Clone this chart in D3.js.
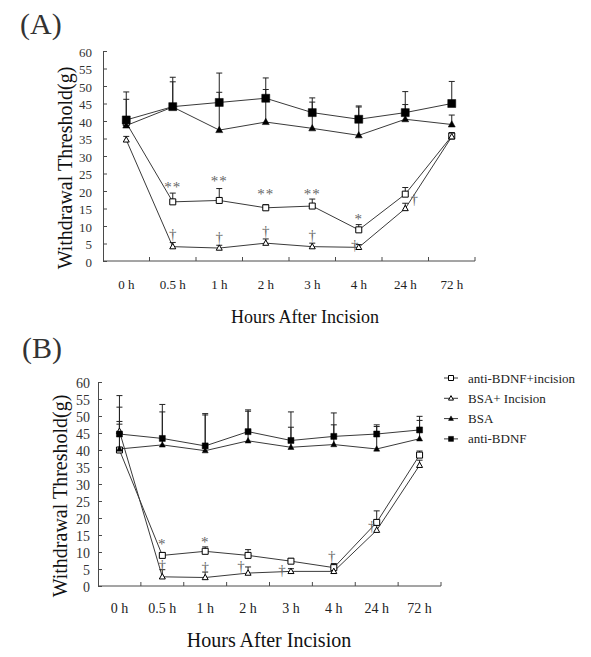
<!DOCTYPE html>
<html>
<head>
<meta charset="utf-8">
<script src="https://cdn.jsdelivr.net/npm/d3@7/dist/d3.min.js"></script>
<style>
  html, body { margin: 0; padding: 0; background: #fff; }
  svg { display: block; }
  text { font-family: "Liberation Serif", "Times New Roman", serif; }
</style>
</head>
<body>
<svg id="chart" width="591" height="657"></svg>
<script>
// ---------- DATA ----------
const hours = ["0 h", "0.5 h", "1 h", "2 h", "3 h", "4 h", "24 h", "72 h"];
const yTicks = [0, 5, 10, 15, 20, 25, 30, 35, 40, 45, 50, 55, 60];
const seriesNames = ["anti-BDNF+incision", "BSA+ Incision", "BSA", "anti-BDNF"];

// Panel A (means and upper error)
const aAntiBDNFInc    = [39.5, 16.9, 17.3, 15.2, 15.7, 8.9, 19.1, 35.7];
const aAntiBDNFIncErr = [1.5, 2.5, 3.4, 0.9, 2.0, 1.5, 1.9, 1.0];
const aBSAInc         = [34.6, 4.1, 3.7, 5.1, 4.1, 3.9, 15.0, 35.5];
const aBSAIncErr      = [1.0, 1.2, 0.8, 1.2, 1.0, 0.8, 1.5, 1.0];
const aBSA            = [38.7, 44.0, 37.4, 39.7, 37.9, 35.9, 40.5, 39.0];
const aBSAErr         = [7.5, 7.2, 10.8, 9.3, 7.5, 8.1, 4.2, 2.7];
const aAntiBDNF       = [40.3, 44.1, 45.3, 46.5, 42.4, 40.5, 42.4, 45.0];
const aAntiBDNFErr    = [8.0, 8.4, 8.4, 5.8, 4.2, 3.8, 6.0, 6.3];
const aStars          = ["", "**", "**", "**", "**", "*", "", ""];
const aDaggers        = ["", "\u2020", "\u2020", "\u2020", "\u2020", "\u2020", "\u2020", ""];

// Panel B
const bAntiBDNFInc    = [40.0, 9.0, 10.2, 9.0, 7.3, 5.4, 18.7, 38.5];
const bAntiBDNFIncErr = [7.6, 0.8, 1.3, 1.7, 0.8, 1.2, 3.4, 1.2];
const bBSAInc         = [45.5, 2.7, 2.5, 3.8, 4.3, 4.3, 16.4, 35.5];
const bBSAIncErr      = [2.9, 2.1, 1.6, 1.8, 0.8, 1.2, 1.6, 1.5];
const bBSA            = [40.3, 41.5, 39.8, 42.7, 40.8, 41.6, 40.3, 43.3];
const bBSAErr         = [12.3, 9.7, 10.5, 8.7, 5.9, 5.8, 6.6, 5.4];
const bAntiBDNF       = [44.7, 43.4, 41.2, 45.4, 42.8, 44.0, 44.7, 45.9];
const bAntiBDNFErr    = [11.3, 10.0, 9.5, 6.4, 8.4, 6.9, 2.7, 4.0];
const bStars          = ["", "*", "*", "", "", "", "", ""];
const bDaggers        = ["", "\u2020", "\u2020", "\u2020", "\u2020", "\u2020", "\u2020", ""];

// ---------- DRAWING ----------
const svg = d3.select("#chart");
const LINE = "#3a3a3a", AXIS = "#4a4a4a", ANNOT = "#666";

function markerPath(type, s) {
  const h = s / 2;
  if (type === "square") return `M${-h},${-h}H${h}V${h}H${-h}Z`;
  const th = s * 0.9;
  return `M0,${-th * 0.6}L${h},${th * 0.4}L${-h},${th * 0.4}Z`;
}

function drawPanel(cfg) {
  const g = svg.append("g");
  const x = d3.scaleBand().domain(hours).range([cfg.x0, cfg.x1]).padding(0);
  const y = d3.scaleLinear().domain([0, 60]).range([cfg.yB, cfg.yT]);
  const bw = x.bandwidth();
  const cx = i => x(hours[i]) + bw / 2;

  g.append("text").attr("x", cfg.letterX).attr("y", cfg.letterY)
    .attr("font-size", 30).attr("fill", "#333").text(cfg.letter);

  const ya = g.append("g").attr("transform", `translate(${cfg.x0},0)`)
    .call(d3.axisLeft(y).tickValues(yTicks).tickSizeInner(-4).tickSizeOuter(0).tickPadding(cfg.yPad));
  ya.select(".domain").attr("stroke", AXIS);
  ya.selectAll(".tick line").attr("stroke", AXIS);
  ya.selectAll(".tick text").attr("font-size", cfg.tickFont).attr("fill", "#333")
    .attr("dy", "0.42em");

  const xa = g.append("g").attr("transform", `translate(0,${cfg.yB})`)
    .call(d3.axisBottom(x).tickSize(0).tickPadding(cfg.xPad));
  xa.select(".domain").remove();
  xa.selectAll(".tick text").attr("font-size", cfg.tickFont).attr("fill", "#222");
  g.append("line").attr("x1", cfg.x0).attr("x2", cfg.x1).attr("y1", cfg.yB).attr("y2", cfg.yB)
    .attr("stroke", AXIS);
  g.selectAll(".xb").data(hours).enter().append("line")
    .attr("x1", d => x(d) + bw).attr("x2", d => x(d) + bw)
    .attr("y1", cfg.yB).attr("y2", cfg.yB - 4).attr("stroke", AXIS);

  g.append("text").attr("x", cfg.xTitleX).attr("y", cfg.xTitleY).attr("text-anchor", "middle")
    .attr("font-size", cfg.xTitleFont).attr("fill", "#111").text("Hours After Incision");
  g.append("text").attr("transform", `translate(${cfg.yTitleX},${cfg.yTitleY}) rotate(-90)`)
    .attr("text-anchor", "middle").attr("font-size", cfg.yTitleFont).attr("fill", "#111")
    .text("Withdrawal Threshold(g)");

  const line = d3.line().x((d, i) => cx(i)).y(d => y(d));

  cfg.series.forEach(s => {
    g.append("path").attr("d", line(s.values)).attr("fill", "none")
      .attr("stroke", LINE).attr("stroke-width", 1);
  });
  cfg.series.forEach(s => {
    s.values.forEach((v, i) => {
      const top = y(v + s.err[i]);
      g.append("line").attr("x1", cx(i)).attr("x2", cx(i)).attr("y1", y(v)).attr("y2", top)
        .attr("stroke", "#222").attr("stroke-width", 1);
      g.append("line").attr("x1", cx(i) - 3).attr("x2", cx(i) + 3).attr("y1", top).attr("y2", top)
        .attr("stroke", "#222").attr("stroke-width", 1);
    });
  });
  cfg.series.forEach(s => {
    g.selectAll(null).data(s.values).enter().append("path")
      .attr("transform", (d, i) => `translate(${cx(i)},${y(d)})`)
      .attr("d", markerPath(s.shape, s.size))
      .attr("fill", s.filled ? "#000" : "#fff")
      .attr("stroke", "#000").attr("stroke-width", s.filled ? 0.5 : 1);
  });

  const sq = cfg.series[0], tr = cfg.series[1];
  cfg.stars.forEach((t, i) => {
    if (!t) return;
    g.append("text").attr("x", cx(i)).attr("y", y(sq.values[i] + sq.err[i]) + cfg.starDy[i])
      .attr("text-anchor", "middle").attr("font-size", 15).attr("fill", ANNOT)
      .attr("letter-spacing", 1).text(t);
  });
  cfg.daggers.forEach((t, i) => {
    if (!t) return;
    g.append("text").attr("x", cx(i) + cfg.daggerDx[i])
      .attr("y", y(tr.values[i] + tr.err[i]) + cfg.daggerDy[i])
      .attr("text-anchor", "middle").attr("font-size", 15).attr("fill", ANNOT).text(t);
  });
}

drawPanel({
  letter: "(A)", letterX: 20, letterY: 34,
  x0: 103, x1: 475, yT: 51, yB: 261,
  tickFont: 13, yPad: 11, xPad: 19,
  xTitleX: 305, xTitleY: 323, xTitleFont: 18,
  yTitleX: 72, yTitleY: 168, yTitleFont: 20,
  series: [
    { values: aAntiBDNFInc, err: aAntiBDNFIncErr, shape: "square", filled: false, size: 6 },
    { values: aBSAInc, err: aBSAIncErr, shape: "triangle", filled: false, size: 6 },
    { values: aBSA, err: aBSAErr, shape: "triangle", filled: true, size: 7 },
    { values: aAntiBDNF, err: aAntiBDNFErr, shape: "square", filled: true, size: 8 }
  ],
  stars: aStars, daggers: aDaggers,
  starDy: [0, -1, -3, -6, 0, -1, 0, 0],
  daggerDx: [0, 0, 0, 0, 0, -4, 9, 0],
  daggerDy: [0, -3, -3, -3, -3, 5, 1, 0]
});

drawPanel({
  letter: "(B)", letterX: 22, letterY: 358,
  x0: 98, x1: 441, yT: 382, yB: 586,
  tickFont: 14, yPad: 8, xPad: 17,
  xTitleX: 269, xTitleY: 647, xTitleFont: 20,
  yTitleX: 67, yTitleY: 496, yTitleFont: 20,
  series: [
    { values: bAntiBDNFInc, err: bAntiBDNFIncErr, shape: "square", filled: false, size: 6 },
    { values: bBSAInc, err: bBSAIncErr, shape: "triangle", filled: false, size: 6 },
    { values: bBSA, err: bBSAErr, shape: "triangle", filled: true, size: 6 },
    { values: bAntiBDNF, err: bAntiBDNFErr, shape: "square", filled: true, size: 6 }
  ],
  stars: bStars, daggers: bDaggers,
  starDy: [0, -4, 0, 0, 0, 0, 0, 0],
  daggerDx: [0, 0, 0, -7, -9, -2, -5, 0],
  daggerDy: [0, 0, 0, 4, 6, -6, 6, 0]
});

// legend (panel B)
const legend = svg.append("g");
const legShapes = [
  { shape: "square", filled: false },
  { shape: "triangle", filled: false },
  { shape: "triangle", filled: true },
  { shape: "square", filled: true }
];
seriesNames.forEach((name, i) => {
  const ly = 378 + i * 20.3;
  legend.append("line").attr("x1", 444).attr("x2", 458).attr("y1", ly).attr("y2", ly)
    .attr("stroke", LINE);
  legend.append("path").attr("transform", `translate(451,${ly})`)
    .attr("d", markerPath(legShapes[i].shape, 5))
    .attr("fill", legShapes[i].filled ? "#000" : "#fff").attr("stroke", "#000")
    .attr("stroke-width", legShapes[i].filled ? 0.5 : 1);
  legend.append("text").attr("x", 468).attr("y", ly + 4.5).attr("font-size", 13)
    .attr("fill", "#222").text(name);
});
</script>
</body>
</html>
